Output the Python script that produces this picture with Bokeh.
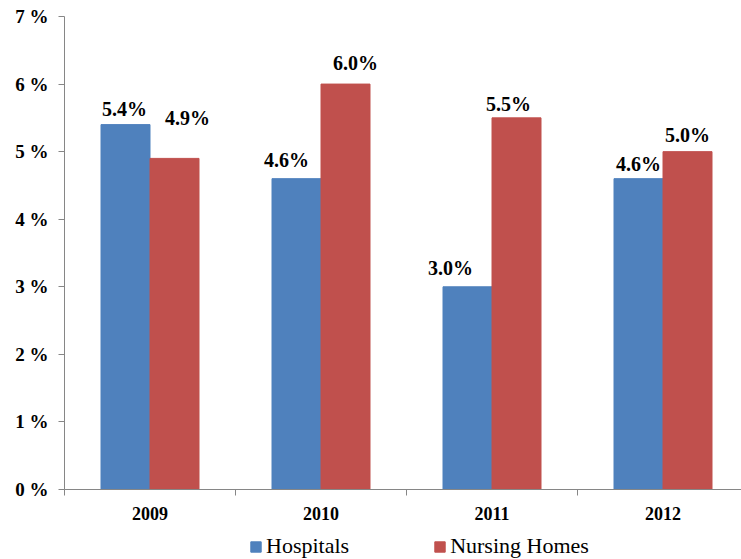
from bokeh.plotting import figure
from bokeh.layouts import column
from bokeh.models import Range1d, FixedTicker, Legend, LegendItem, ColumnDataSource
from bokeh.core.properties import value
from bokeh.embed import file_html
from bokeh.resources import INLINE

years = ["2009", "2010", "2011", "2012"]
hospitals = [5.4, 4.6, 3.0, 4.6]
nursing = [4.9, 6.0, 5.5, 5.0]
hosp_labels = ["5.4%", "4.6%", "3.0%", "4.6%"]
nurs_labels = ["4.9%", "6.0%", "5.5%", "5.0%"]
series_names = ["Hospitals", "Nursing Homes"]
y_ticks = [0, 1, 2, 3, 4, 5, 6, 7]
y_tick_labels = ["0 %", "1 %", "2 %", "3 %", "4 %", "5 %", "6 %", "7 %"]

BLUE = "#4F81BD"
RED = "#C0504D"
AXIS = "#868686"
FONT = "Liberation Serif"

W = 741
H = 559
LEG_H = 29
MAIN_H = H - LEG_H
left = 64
top = 16
bottom = MAIN_H - 489
px_per_cat = 171.0
bw = 49.0 / px_per_cat

p = figure(width=W, height=MAIN_H, output_backend="svg", toolbar_location=None,
           x_range=Range1d(0, (W - left) / px_per_cat), y_range=Range1d(0, 7),
           min_border_left=left, min_border_right=0, min_border_top=top,
           min_border_bottom=bottom)
p.outline_line_color = None
p.xgrid.visible = False
p.ygrid.visible = False

centers = [i + 0.5 for i in range(len(years))]
hx = [c - bw / 2 for c in centers]
nx = [c + bw / 2 for c in centers]

src_h = ColumnDataSource(dict(x=hx, top=hospitals, lab=hosp_labels,
                              dx=[-1, -10, -17, 0], dy=[-16, -19, -19, -15]))
src_n = ColumnDataSource(dict(x=nx, top=nursing, lab=nurs_labels,
                              dx=[13, 10, -8, 0], dy=[-40, -21, -14, -17]))

p.vbar(x="x", top="top", bottom=0, width=bw, source=src_h,
       fill_color=BLUE, line_color=BLUE)
p.vbar(x="x", top="top", bottom=0, width=bw, source=src_n,
       fill_color=RED, line_color=RED)

for s in (src_h, src_n):
    p.text(x="x", y="top", text="lab", source=s, x_offset="dx", y_offset="dy",
           text_align="center", text_baseline="alphabetic",
           text_font=value(FONT), text_font_style="bold",
           text_font_size="20px", text_color="black")

# y axis
ya = p.yaxis[0]
ya.ticker = FixedTicker(ticks=y_ticks)
ya.major_label_overrides = {t: l for t, l in zip(y_ticks, y_tick_labels)}
ya.axis_line_color = AXIS
ya.major_tick_line_color = AXIS
ya.major_tick_out = 6
ya.major_tick_in = 0
ya.minor_tick_line_color = None
ya.major_label_text_font = FONT
ya.major_label_text_font_style = "bold"
ya.major_label_text_font_size = "19px"
ya.major_label_text_color = "black"
ya.major_label_standoff = 10

# x axis
xa = p.xaxis[0]
xa.ticker = FixedTicker(ticks=centers, minor_ticks=[0, 1, 2, 3, 4])
xa.major_label_overrides = {c: y for c, y in zip(centers, years)}
xa.axis_line_color = AXIS
xa.major_tick_line_color = None
xa.major_tick_out = 0
xa.major_tick_in = 0
xa.minor_tick_line_color = AXIS
xa.minor_tick_out = 6
xa.minor_tick_in = 0
xa.major_label_text_font = FONT
xa.major_label_text_font_style = "bold"
xa.major_label_text_font_size = "18px"
xa.major_label_text_color = "black"
xa.major_label_standoff = 11

# legend strip (its frame is aligned with the main frame by the column);
# the same bars are drawn there but outside its visible range, only to key the legend
lg = figure(width=W, height=LEG_H, output_backend="svg", toolbar_location=None,
            x_range=Range1d(100, 101), y_range=Range1d(100, 101),
            min_border=0)
lg.outline_line_color = None
lg.axis.visible = False
lg.grid.visible = False
gh = lg.vbar(x="x", top="top", bottom=0, width=bw, source=src_h,
             fill_color=BLUE, line_color=BLUE)
gn = lg.vbar(x="x", top="top", bottom=0, width=bw, source=src_n,
             fill_color=RED, line_color=RED)
legend = Legend(items=[LegendItem(label=series_names[0], renderers=[gh]),
                       LegendItem(label=series_names[1], renderers=[gn])],
                orientation="horizontal", location=(185, 0),
                label_text_font=FONT, label_text_font_size="22px",
                label_text_color="black", glyph_width=13, glyph_height=13,
                spacing=84, padding=0, margin=0, label_standoff=4,
                border_line_color=None, background_fill_alpha=0)
lg.add_layout(legend, "center")

layout = column(p, lg, spacing=0)
open("out.html", "w").write(file_html(layout, INLINE))
